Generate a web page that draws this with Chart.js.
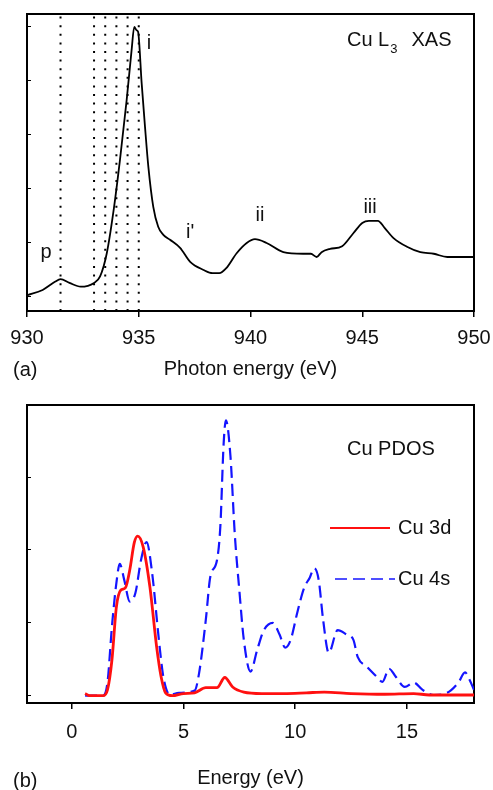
<!DOCTYPE html>
<html>
<head>
<meta charset="utf-8">
<script src="https://cdn.jsdelivr.net/npm/chart.js@4.4.1/dist/chart.umd.min.js"></script>
<style>
  html, body { margin: 0; padding: 0; background: #fff; }
  canvas { position: absolute; left: 0; }
  #xasChart { top: 0; }
  #pdosChart { top: 400px; }
</style>
</head>
<body>
<canvas id="xasChart" width="493" height="400"></canvas>
<canvas id="pdosChart" width="493" height="390"></canvas>
<script>
// (a) Cu L3 XAS spectrum
const xasEnergy = [930, 930.7, 931.25, 931.5, 931.9, 932.4, 933.0, 933.27, 933.57, 933.86, 934.16, 934.46, 934.68, 934.8, 934.9, 934.97,
  935.13, 935.28, 935.43, 935.65, 935.87, 936.1, 936.4, 936.85, 937.3, 937.9, 938.3, 938.6, 938.93, 939.38, 939.83, 940.2, 940.72,
  941.47, 942.35, 942.7, 942.96, 943.18, 943.56, 944.1, 944.6, 945.0, 945.3, 945.7, 946.0, 946.4, 947.0, 947.6, 948.2, 948.8, 950];
const xasIntensity = [0.03, 0.13, 0.28, 0.33, 0.26, 0.19, 0.26, 0.38, 0.81, 1.56, 2.54, 3.65, 4.57, 5.0, 4.94, 4.91,
  3.96, 3.15, 2.41, 1.67, 1.3, 1.15, 1.06, 0.91, 0.65, 0.5, 0.44, 0.44, 0.54, 0.81, 1.0, 1.07, 1.0,
  0.83, 0.8, 0.8, 0.74, 0.83, 0.89, 0.94, 1.18, 1.37, 1.41, 1.41, 1.28, 1.09, 0.93, 0.83, 0.8, 0.74, 0.74];
const dottedEnergies = [931.5, 933.0, 933.5, 934.0, 934.5, 935.0];
const xasXTicks = [930, 935, 940, 945, 950];
const xasYTicks = [0, 1, 2, 3, 4, 5];
const xasPeakLabels = ["p", "i", "i'", "ii", "iii"];
const xasPeakLabelX = [930.85, 935.46, 937.3, 940.42, 945.35];
const xasPeakLabelY = [0.83, 4.7, 1.19, 1.5, 1.65];

// (b) Cu PDOS
const d3Energy = [0.6, 0.8, 1.4, 1.6, 1.8, 2.0, 2.2, 2.4, 2.6, 2.8, 2.95, 3.2, 3.5, 3.8, 4.0, 4.2, 4.5, 5.0, 5.5, 6.0, 6.5, 6.85,
  7.2, 7.7, 8.5, 9.5, 10.5, 11.3, 12.5, 14.0, 15.3, 16.0, 18.0];
const d3Dos = [0.03, 0, 0, 0.08, 0.49, 1.22, 1.45, 1.48, 1.73, 2.1, 2.19, 2.04, 1.49, 0.67, 0.26, 0.04, 0, 0.03, 0.04, 0.11, 0.11, 0.25,
  0.12, 0.05, 0.03, 0.03, 0.04, 0.05, 0.03, 0.02, 0.03, 0.01, 0.01];
const s4Energy = [0.6, 1.4, 1.6, 1.8, 2.0, 2.15, 2.35, 2.6, 2.85, 3.1, 3.35, 3.6, 3.9, 4.1, 4.4, 4.8, 5.5, 5.7, 6.0, 6.2, 6.5, 6.65,
  6.8, 6.9, 7.1, 7.3, 7.5, 7.7, 8.0, 8.3, 8.6, 9.0, 9.3, 9.55, 9.8, 10.1, 10.4, 10.65, 10.85, 11.05, 11.25, 11.5, 11.9, 12.3, 12.6,
  12.8, 13.2, 13.65, 13.9, 14.2, 14.5, 14.9, 15.3, 15.7, 16.2, 16.8, 17.3, 17.6, 17.8, 18.0];
const s4Dos = [0, 0, 0.18, 0.95, 1.55, 1.81, 1.59, 1.29, 1.41, 1.86, 2.11, 1.68, 0.77, 0.26, 0.01, 0.04, 0.07, 0.31, 1.04, 1.63, 1.86, 2.32,
  3.47, 3.78, 3.3, 2.2, 1.45, 0.77, 0.33, 0.63, 0.9, 1.0, 0.84, 0.66, 0.77, 1.15, 1.48, 1.62, 1.75, 1.59, 1.04, 0.59, 0.9, 0.84, 0.77,
  0.53, 0.4, 0.26, 0.19, 0.37, 0.26, 0.12, 0.18, 0.08, 0.01, 0.04, 0.18, 0.32, 0.22, 0.08];
const pdosXTicks = [0, 5, 10, 15];
const pdosYTicks = [0, 1, 2, 3];

const FONT = '"Liberation Sans", Arial, sans-serif';
Chart.defaults.font.family = FONT;
Chart.defaults.color = "#111";

const toPoints = (xs, ys) => xs.map((x, i) => ({ x: x, y: ys[i] }));

function frameAxes(xMin, xMax, xTicks, yMin, yMax, yTicks, xTitle, axisHeight, tickPad, titlePad) {
  return {
    x: {
      type: "linear", min: xMin, max: xMax,
      afterBuildTicks: s => { s.ticks = xTicks.map(v => ({ value: v })); },
      afterFit: s => { s.height = axisHeight; s.paddingLeft = 0; s.paddingRight = 0; },
      grid: { drawOnChartArea: false, tickLength: 6, color: "#000", lineWidth: 1.5 },
      border: { color: "#000", width: 2 },
      ticks: { font: { size: 20 }, color: "#111", padding: tickPad, maxRotation: 0 },
      title: { display: true, text: xTitle, font: { size: 20 }, color: "#111", padding: { top: 0, bottom: titlePad } }
    },
    y: {
      type: "linear", min: yMin, max: yMax,
      afterBuildTicks: s => { s.ticks = yTicks.map(v => ({ value: v })); },
      afterFit: s => { s.width = 27; s.paddingTop = 0; s.paddingBottom = 0; },
      grid: { drawOnChartArea: false, tickLength: -4, color: "#000", lineWidth: 1 },
      border: { color: "#000", width: 2 },
      ticks: { display: false }
    },
    xTop: {
      type: "linear", position: "top", display: true,
      afterFit: s => { s.height = 0; s.paddingLeft = 0; s.paddingRight = 0; },
      grid: { display: false }, ticks: { display: false },
      border: { color: "#000", width: 2 }
    },
    yRight: {
      type: "linear", position: "right", display: true,
      afterFit: s => { s.width = 0; s.paddingTop = 0; s.paddingBottom = 0; },
      grid: { display: false }, ticks: { display: false },
      border: { color: "#000", width: 2 }
    }
  };
}

// (a) XAS
const xasDatasets = dottedEnergies.map(e => ({
  data: [{ x: e, y: -0.26 }, { x: e, y: 5.24 }],
  borderColor: "#000", borderWidth: 2, borderDash: [2, 6.6], pointRadius: 0
}));
xasDatasets.push({
  label: "Cu L3 XAS",
  data: toPoints(xasEnergy, xasIntensity),
  borderColor: "#000", borderWidth: 1.8, pointRadius: 0, cubicInterpolationMode: "monotone"
});

new Chart(document.getElementById("xasChart"), {
  type: "line",
  data: { datasets: xasDatasets },
  options: {
    responsive: false, animation: false,
    layout: { padding: { left: 0, top: 14, right: 19, bottom: 0 } },
    scales: frameAxes(930, 950, xasXTicks, -0.26, 5.24, xasYTicks, "Photon energy (eV)", 89, 9, 19),
    plugins: { legend: { display: false }, tooltip: { enabled: false } }
  },
  plugins: [{
    id: "xasText",
    afterDraw(chart) {
      const { ctx, chartArea } = chart;
      const xs = chart.scales.x, ys = chart.scales.y;
      ctx.save();
      ctx.fillStyle = "#111";
      ctx.textBaseline = "middle";
      ctx.textAlign = "center";
      ctx.font = "20px " + FONT;
      xasPeakLabels.forEach((t, i) => {
        ctx.fillText(t, xs.getPixelForValue(xasPeakLabelX[i]), ys.getPixelForValue(xasPeakLabelY[i]));
      });
      // title with subscript
      ctx.textAlign = "left";
      let tx = chartArea.right - 127, ty = chartArea.top + 26;
      ctx.fillText("Cu L", tx, ty);
      tx += ctx.measureText("Cu L").width + 1;
      ctx.font = "13px " + FONT;
      ctx.fillText("3", tx, ty + 9);
      tx += ctx.measureText("3").width + 14;
      ctx.font = "20px " + FONT;
      ctx.fillText("XAS", tx, ty);
      ctx.fillText("(a)", 13, 370);
      ctx.restore();
    }
  }]
});

// (b) PDOS
new Chart(document.getElementById("pdosChart"), {
  type: "line",
  data: {
    datasets: [
      { label: "Cu 3d", data: toPoints(d3Energy, d3Dos), borderColor: "#ff1010", borderWidth: 2.8,
        pointRadius: 0, cubicInterpolationMode: "monotone", order: 0 },
      { label: "Cu 4s", data: toPoints(s4Energy, s4Dos), borderColor: "#1414ff", borderWidth: 2.2, borderDash: [12, 6],
        pointRadius: 0, cubicInterpolationMode: "monotone", order: 1 }
    ]
  },
  options: {
    responsive: false, animation: false,
    layout: { padding: { left: 0, top: 5, right: 19, bottom: 0 } },
    scales: frameAxes(-2, 18, pdosXTicks, -0.1, 3.99, pdosYTicks, "Energy (eV)", 87, 11, 0),
    plugins: { legend: { display: false }, tooltip: { enabled: false } }
  },
  plugins: [{
    id: "pdosText",
    afterDraw(chart) {
      const { ctx, chartArea } = chart;
      ctx.save();
      ctx.fillStyle = "#111";
      ctx.textBaseline = "middle";
      ctx.textAlign = "left";
      ctx.font = "20px " + FONT;
      ctx.fillText("Cu PDOS", chartArea.right - 127, chartArea.top + 44);
      // legend built from the datasets
      const rows = [
        { ds: chart.data.datasets[0], x0: chartArea.right - 144, y: chartArea.top + 123 },
        { ds: chart.data.datasets[1], x0: chartArea.right - 139, y: chartArea.top + 174 }
      ];
      rows.forEach(r => {
        ctx.save();
        ctx.strokeStyle = r.ds.borderColor;
        ctx.lineWidth = r.ds.borderWidth * 0.75;
        ctx.setLineDash(r.ds.borderDash || []);
        ctx.beginPath();
        ctx.moveTo(r.x0, r.y);
        ctx.lineTo(r.x0 + 60, r.y);
        ctx.stroke();
        ctx.restore();
        ctx.fillText(r.ds.label, chartArea.right - 76, r.y);
      });
      ctx.fillText("(b)", 13, 381);
      ctx.restore();
    }
  }]
});
</script>
</body>
</html>
